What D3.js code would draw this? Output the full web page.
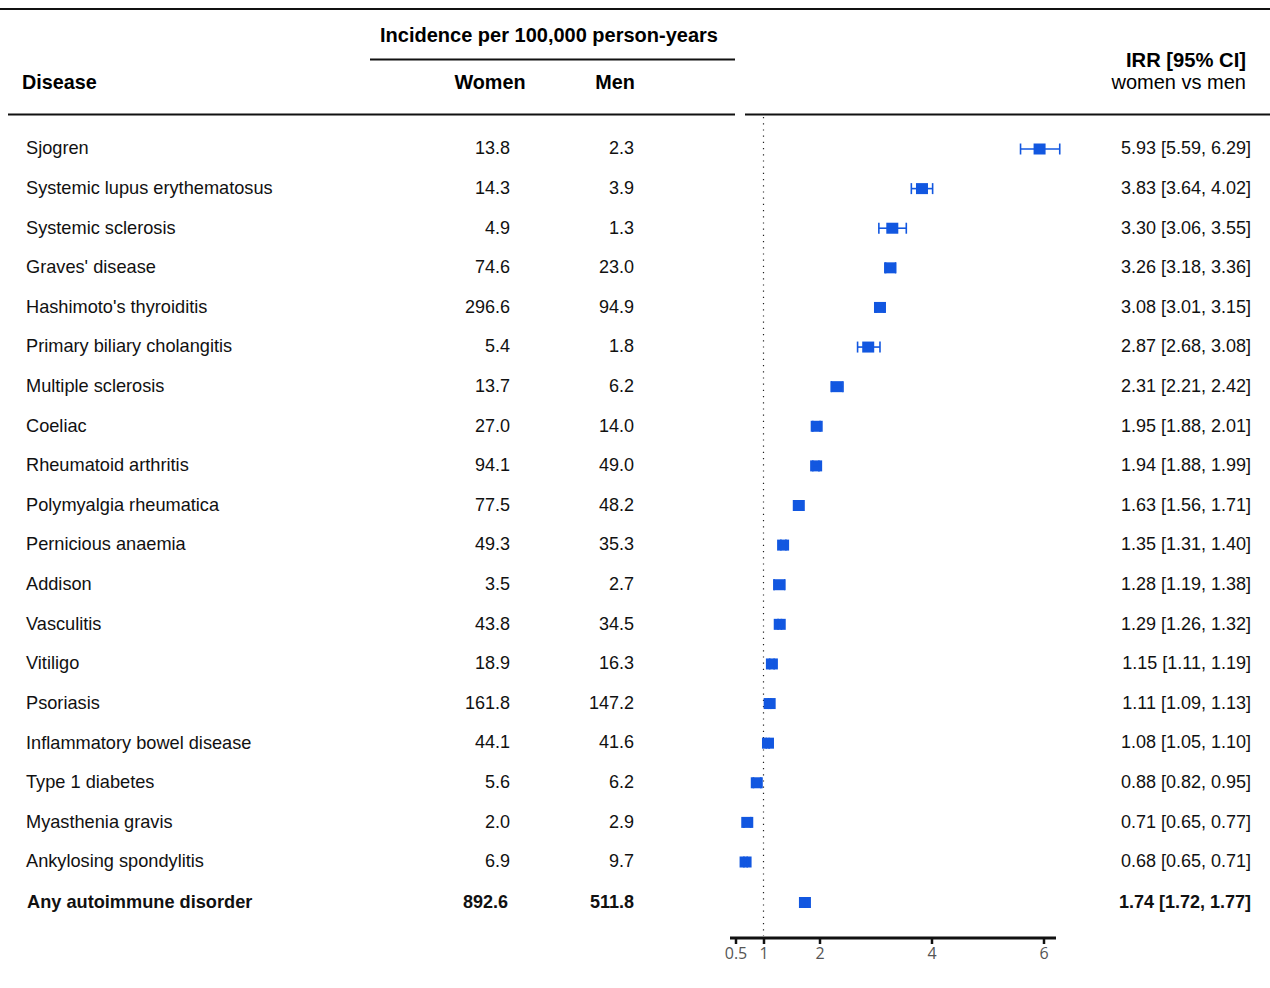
<!DOCTYPE html>
<html><head><meta charset="utf-8">
<script src="https://cdn.jsdelivr.net/npm/d3@7"></script>
<style>body{margin:0;background:#fff}svg{display:block}text{font-family:"Liberation Sans",Arial,Helvetica,sans-serif}</style>
</head><body><svg id="c" width="1270" height="988"></svg>
<script>
const diseases = ["Sjogren","Systemic lupus erythematosus","Systemic sclerosis","Graves' disease","Hashimoto's thyroiditis","Primary biliary cholangitis","Multiple sclerosis","Coeliac","Rheumatoid arthritis","Polymyalgia rheumatica","Pernicious anaemia","Addison","Vasculitis","Vitiligo","Psoriasis","Inflammatory bowel disease","Type 1 diabetes","Myasthenia gravis","Ankylosing spondylitis","Any autoimmune disorder"];
const women = [13.8,14.3,4.9,74.6,296.6,5.4,13.7,27.0,94.1,77.5,49.3,3.5,43.8,18.9,161.8,44.1,5.6,2.0,6.9,892.6];
const men = [2.3,3.9,1.3,23.0,94.9,1.8,6.2,14.0,49.0,48.2,35.3,2.7,34.5,16.3,147.2,41.6,6.2,2.9,9.7,511.8];
const irr = [5.93,3.83,3.30,3.26,3.08,2.87,2.31,1.95,1.94,1.63,1.35,1.28,1.29,1.15,1.11,1.08,0.88,0.71,0.68,1.74];
const lo = [5.59,3.64,3.06,3.18,3.01,2.68,2.21,1.88,1.88,1.56,1.31,1.19,1.26,1.11,1.09,1.05,0.82,0.65,0.65,1.72];
const hi = [6.29,4.02,3.55,3.36,3.15,3.08,2.42,2.01,1.99,1.71,1.40,1.38,1.32,1.19,1.13,1.10,0.95,0.77,0.71,1.77];
const xTicks = [0.5,1,2,4,6];

const svg = d3.select("#c");
const n = diseases.length;
const y = d3.scaleLinear().domain([0, n-2]).range([148, 861]);
const yPos = i => i === n-1 ? 901.5 : y(i);
const x = d3.scaleLinear().domain([0.5, 6]).range([735.5, 1043.5]);
const blue = "#1257e0";
const f = d => d.toFixed(2);

// header lines
svg.append("line").attr("x1",0).attr("x2",1270).attr("y1",9).attr("y2",9).attr("stroke","#111").attr("stroke-width",2);
svg.append("line").attr("x1",370).attr("x2",735).attr("y1",59.5).attr("y2",59.5).attr("stroke","#111").attr("stroke-width",2);
svg.append("line").attr("x1",8).attr("x2",735).attr("y1",114.5).attr("y2",114.5).attr("stroke","#111").attr("stroke-width",2);
svg.append("line").attr("x1",745).attr("x2",1270).attr("y1",114.5).attr("y2",114.5).attr("stroke","#111").attr("stroke-width",2);

svg.append("text").attr("x",549).attr("y",42).attr("text-anchor","middle").attr("font-weight","bold").attr("font-size",20).text("Incidence per 100,000 person-years");
svg.append("text").attr("x",22).attr("y",89).attr("font-weight","bold").attr("font-size",19.8).text("Disease");
svg.append("text").attr("x",490).attr("y",89).attr("text-anchor","middle").attr("font-weight","bold").attr("font-size",19.8).text("Women");
svg.append("text").attr("x",615).attr("y",89).attr("text-anchor","middle").attr("font-weight","bold").attr("font-size",19.8).text("Men");
svg.append("text").attr("x",1246).attr("y",67).attr("text-anchor","end").attr("font-weight","bold").attr("font-size",20.2).text("IRR [95% CI]");
svg.append("text").attr("x",1246).attr("y",89).attr("text-anchor","end").attr("font-size",20).text("women vs men");

// reference line
svg.append("line").attr("x1",x(1)).attr("x2",x(1)).attr("y1",117).attr("y2",936).attr("stroke","#222").attr("stroke-width",1.2).attr("stroke-dasharray","1.2,5");

// rows
const rows = svg.append("g").selectAll("g").data(diseases).join("g")
  .attr("transform",(d,i)=>`translate(0,${yPos(i)})`)
  .attr("font-weight",(d,i)=> i===n-1 ? "bold" : "normal");
rows.append("text").attr("x",(d,i)=> i===n-1 ? 27 : 26).attr("dy","0.35em").attr("font-size",18.2).attr("fill","#111").text(d=>d);
rows.append("text").attr("x",(d,i)=> i===n-1 ? 508 : 510).attr("dy","0.35em").attr("text-anchor","end").attr("font-size",18).attr("fill","#111").text((d,i)=>women[i].toFixed(1));
rows.append("text").attr("x",634).attr("dy","0.35em").attr("text-anchor","end").attr("font-size",18).attr("fill","#111").text((d,i)=>men[i].toFixed(1));
rows.append("text").attr("x",1251).attr("dy","0.35em").attr("text-anchor","end").attr("font-size",18).attr("fill","#111").text((d,i)=>`${f(irr[i])} [${f(lo[i])}, ${f(hi[i])}]`);

// markers then CI on top
rows.append("rect").attr("x",(d,i)=>x(irr[i])-6).attr("y",-4.5).attr("width",12).attr("height",11).attr("fill",blue);
const ci = rows.append("g").attr("stroke",blue).attr("stroke-width",1.6);
ci.append("line").attr("x1",(d,i)=>x(lo[i])).attr("x2",(d,i)=>x(hi[i])).attr("y1",1).attr("y2",1);
ci.append("line").attr("x1",(d,i)=>x(lo[i])).attr("x2",(d,i)=>x(lo[i])).attr("y1",-4.5).attr("y2",6.5);
ci.append("line").attr("x1",(d,i)=>x(hi[i])).attr("x2",(d,i)=>x(hi[i])).attr("y1",-4.5).attr("y2",6.5);
ci.selectAll("line").filter(function(){return false;});

// axis
const ax = svg.append("g").attr("transform","translate(0,938)")
  .call(d3.axisBottom(x).tickValues(xTicks).tickSize(6).tickPadding(4).tickFormat(d3.format("")));
ax.select(".domain").attr("d","M730,0H1056").attr("stroke","#111").attr("stroke-width",3);
ax.selectAll(".tick line").attr("stroke","#111").attr("stroke-width",2.5);
ax.selectAll(".tick text").style("font-family","'Open Sans','DejaVu Sans',sans-serif").style("font-size","16px").attr("fill","#555");
</script></body></html>
